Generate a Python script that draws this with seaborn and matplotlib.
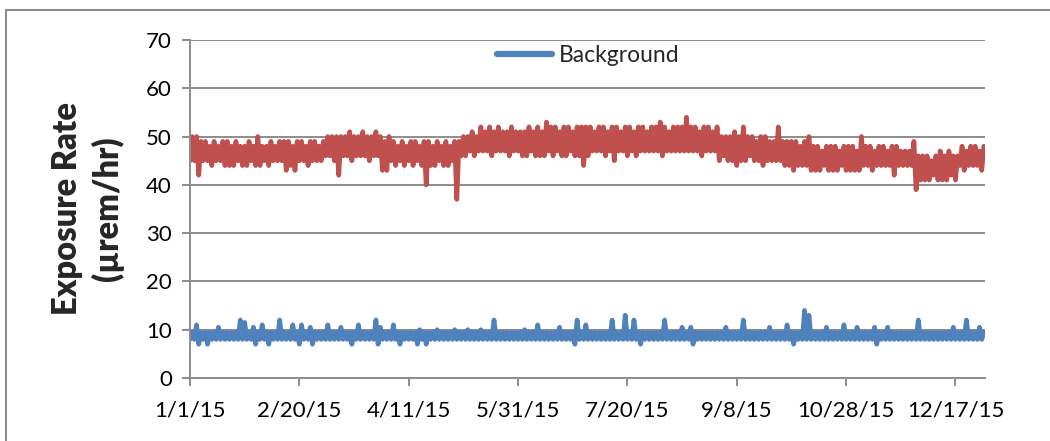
import datetime

import matplotlib
import pandas as pd
import seaborn as sns
from matplotlib import pyplot as plt
from matplotlib.lines import Line2D

matplotlib.use("Agg")

# daily readings summarised as 2-day low / high pairs (uR/hr), starting 1/1/15
START_DATE = datetime.date(2015, 1, 1)
PERIOD_DAYS = 2

site_high = [
    50, 50, 49, 49, 48, 49, 48, 49, 49, 48,
    49, 48, 48, 49, 48, 50, 48, 48, 49, 48,
    49, 49, 49, 48, 49, 49, 48, 49, 49, 48,
    49, 50, 50, 50, 50, 50, 51, 50, 50, 51,
    50, 50, 51, 50, 49, 50, 49, 48, 49, 48,
    49, 49, 48, 49, 49, 48, 49, 48, 49, 48,
    49, 49, 50, 50, 51, 50, 52, 51, 52, 51,
    52, 51, 51, 52, 51, 51, 51, 52, 51, 52,
    51, 53, 52, 52, 51, 52, 52, 51, 52, 52,
    52, 52, 51, 52, 52, 51, 52, 52, 51, 52,
    52, 51, 52, 52, 51, 52, 52, 53, 52, 51,
    52, 52, 52, 54, 52, 52, 51, 52, 52, 51,
    52, 50, 50, 50, 51, 50, 52, 50, 50, 49,
    50, 50, 49, 49, 52, 49, 49, 49, 49, 48,
    49, 50, 48, 48, 47, 48, 48, 48, 47, 48,
    48, 48, 47, 50, 48, 48, 47, 48, 48, 47,
    48, 48, 47, 47, 47, 49, 46, 46, 46, 45,
    46, 47, 46, 47, 46, 46, 48, 47, 48, 48,
    47, 48,
]
site_low = [
    45, 45, 42, 45, 45, 44, 45, 45, 44, 44,
    44, 45, 44, 44, 45, 44, 44, 45, 44, 45,
    45, 45, 43, 44, 43, 45, 45, 44, 45, 45,
    45, 46, 46, 45, 42, 46, 46, 45, 46, 46,
    46, 45, 46, 46, 43, 43, 45, 44, 45, 44,
    45, 44, 45, 44, 40, 44, 44, 45, 44, 44,
    45, 37, 46, 46, 47, 46, 47, 47, 47, 46,
    47, 47, 47, 46, 47, 47, 46, 46, 47, 46,
    46, 46, 47, 46, 47, 46, 46, 47, 46, 46,
    44, 46, 47, 47, 47, 46, 47, 45, 47, 47,
    46, 47, 46, 47, 47, 47, 47, 47, 46, 47,
    47, 47, 47, 47, 47, 47, 47, 46, 47, 47,
    47, 45, 46, 45, 45, 44, 45, 45, 46, 45,
    45, 44, 45, 45, 45, 45, 44, 44, 43, 44,
    44, 44, 43, 43, 43, 44, 43, 43, 43, 44,
    43, 43, 43, 43, 44, 44, 43, 44, 44, 44,
    44, 42, 44, 44, 44, 44, 39, 41, 41, 41,
    42, 41, 41, 41, 42, 41, 44, 43, 44, 44,
    44, 43,
]

background_high = [
    9.5, 11, 9.5, 9.5, 9.5, 9.5, 10.5, 9.5, 9.5, 9.5,
    9.5, 12, 11.5, 9.5, 10.5, 9.5, 11, 9.5, 9.5, 9.5,
    12, 9.5, 9.5, 11, 9.5, 11, 9.5, 10.5, 9.5, 9.5,
    9.5, 11, 9.5, 9.5, 10.5, 9.5, 9.5, 9.5, 11, 9.5,
    9.5, 9.5, 12, 10.5, 9.5, 9.5, 11, 9.5, 9.5, 9.5,
    9.5, 9.5, 10, 9.5, 9.5, 9.5, 10, 9.5, 9.5, 9.5,
    10, 9.5, 9.5, 10, 9.5, 9.5, 10, 9.5, 9.5, 12,
    9.5, 9.5, 9.5, 9.5, 9.5, 9.5, 10, 9.5, 9.5, 11,
    9.5, 9.5, 9.5, 9.5, 10.5, 9.5, 9.5, 9.5, 12, 9.5,
    11, 9.5, 9.5, 9.5, 9.5, 9.5, 12, 9.5, 9.5, 13,
    9.5, 12, 9.5, 9.5, 9.5, 9.5, 9.5, 9.5, 12, 9.5,
    9.5, 9.5, 10.5, 9.5, 10.5, 9.5, 9.5, 9.5, 9.5, 9.5,
    9.5, 9.5, 10.5, 9.5, 9.5, 9.5, 12, 9.5, 9.5, 9.5,
    9.5, 9.5, 10.5, 9.5, 9.5, 9.5, 11, 9.5, 9.5, 9.5,
    14, 13, 9.5, 9.5, 9.5, 10.5, 9.5, 9.5, 9.5, 11,
    9.5, 9.5, 10.5, 9.5, 9.5, 9.5, 10.5, 9.5, 9.5, 10.5,
    9.5, 9.5, 9.5, 9.5, 9.5, 9.5, 12, 9.5, 9.5, 9.5,
    9.5, 9.5, 9.5, 9.5, 10.5, 9.5, 9.5, 12, 9.5, 9.5,
    10.5, 9.5,
]
background_low = [
    8, 8, 7, 8, 7, 8, 8, 8, 8, 8,
    8, 8, 8, 8, 8, 7, 8, 8, 7, 8,
    8, 8, 8, 8, 8, 7, 8, 8, 7, 8,
    8, 8, 8, 8, 8, 8, 8, 7, 8, 8,
    8, 8, 8, 7, 8, 8, 8, 8, 7, 8,
    8, 8, 7, 8, 7, 8, 8, 8, 8, 8,
    8, 8, 8, 8, 8, 8, 8, 8, 8, 8,
    8, 8, 8, 8, 8, 8, 8, 8, 8, 8,
    8, 8, 8, 8, 8, 8, 8, 8, 7, 8,
    8, 8, 8, 8, 8, 8, 8, 8, 8, 8,
    8, 8, 8, 7, 8, 8, 8, 8, 8, 8,
    8, 8, 8, 8, 8, 7, 8, 8, 8, 8,
    8, 8, 8, 8, 8, 8, 8, 8, 8, 8,
    8, 8, 8, 8, 8, 8, 8, 8, 7, 8,
    8, 8, 8, 8, 8, 8, 8, 8, 8, 8,
    8, 8, 8, 8, 8, 8, 8, 7, 8, 8,
    8, 8, 8, 8, 8, 8, 8, 8, 8, 8,
    8, 8, 8, 8, 8, 8, 8, 8, 8, 8,
    8, 8,
]

y_ticks = [0, 10, 20, 30, 40, 50, 60, 70]
x_tick_step_days = 50

colors = {
    "Site": "#C0504D",
    "Background": "#4F81BD",
}
GRAY = "#8C8C8C"


def build_series(name, lows, highs):
    rows = []
    for i, (lo, hi) in enumerate(zip(lows, highs)):
        day0 = START_DATE + datetime.timedelta(days=i * PERIOD_DAYS)
        day1 = day0 + datetime.timedelta(days=1)
        rows.append({"date": pd.Timestamp(day0), "rate": lo, "series": name})
        rows.append({"date": pd.Timestamp(day1), "rate": hi, "series": name})
    return rows


df = pd.DataFrame(
    build_series("Site", site_low, site_high)
    + build_series("Background", background_low, background_high)
)

sns.set_style("white")
plt.rcParams["font.family"] = ["Lato", "DejaVu Sans"]

fig = plt.figure(figsize=(10.5, 4.41), dpi=100)
ax = fig.add_axes([190 / 1050, 1 - 378 / 441, 795 / 1050, 338 / 441])

for name in ["Site", "Background"]:
    sns.lineplot(
        data=df[df["series"] == name],
        x="date",
        y="rate",
        ax=ax,
        color=colors[name],
        linewidth=3.4,
        estimator=None,
        sort=False,
        legend=False,
        solid_joinstyle="round",
        solid_capstyle="round",
    )

ax.set_ylim(0, 70)
ax.set_yticks(y_ticks)
start = pd.Timestamp(START_DATE)
ax.set_xlim(start, start + pd.Timedelta(days=363.5))
x_ticks = [start + pd.Timedelta(days=d) for d in range(0, 364, x_tick_step_days)]
ax.set_xticks(x_ticks)
ax.set_xticklabels([f"{t.month}/{t.day}/{t.year % 100}" for t in x_ticks])

ax.grid(axis="y", color=GRAY, linewidth=1.4)
ax.grid(axis="x", visible=False)
ax.set_axisbelow(True)
for side in ["top", "right"]:
    ax.spines[side].set_visible(False)
for side in ["left", "bottom"]:
    ax.spines[side].set_color(GRAY)
    ax.spines[side].set_linewidth(1.4)

ax.tick_params(
    axis="both",
    direction="out",
    length=6,
    width=1.4,
    color=GRAY,
    labelsize=16,
    labelcolor="black",
    bottom=True,
    left=True,
)
ax.tick_params(axis="y", pad=7)
ax.tick_params(axis="x", pad=10)

ax.set_xlabel("")
ax.set_ylabel(
    "Exposure Rate\n(µrem/hr)", fontsize=23.5, fontweight="heavy", linespacing=1.3
)
ax.yaxis.set_label_coords(-0.129, 0.5)
ax.yaxis.label.set_verticalalignment("center")

leg_handles = [
    Line2D([0], [0], color=colors["Background"], linewidth=4.5, solid_capstyle="round")
]
fig.legend(
    handles=leg_handles,
    labels=["Background"],
    loc="center",
    bbox_to_anchor=(588 / 1050, 1 - 56 / 441),
    frameon=False,
    fontsize=16.5,
    handlelength=2.4,
    handletextpad=0.3,
)

# chart frame (top and left edges are visible in the original)
fig.add_artist(Line2D([6 / 1050, 1.0], [1 - 9.5 / 441] * 2, color=GRAY, linewidth=1.5))
fig.add_artist(Line2D([6 / 1050] * 2, [0.0, 1 - 9.5 / 441], color=GRAY, linewidth=1.5))

fig.savefig("out.png", dpi=100, facecolor="white")
